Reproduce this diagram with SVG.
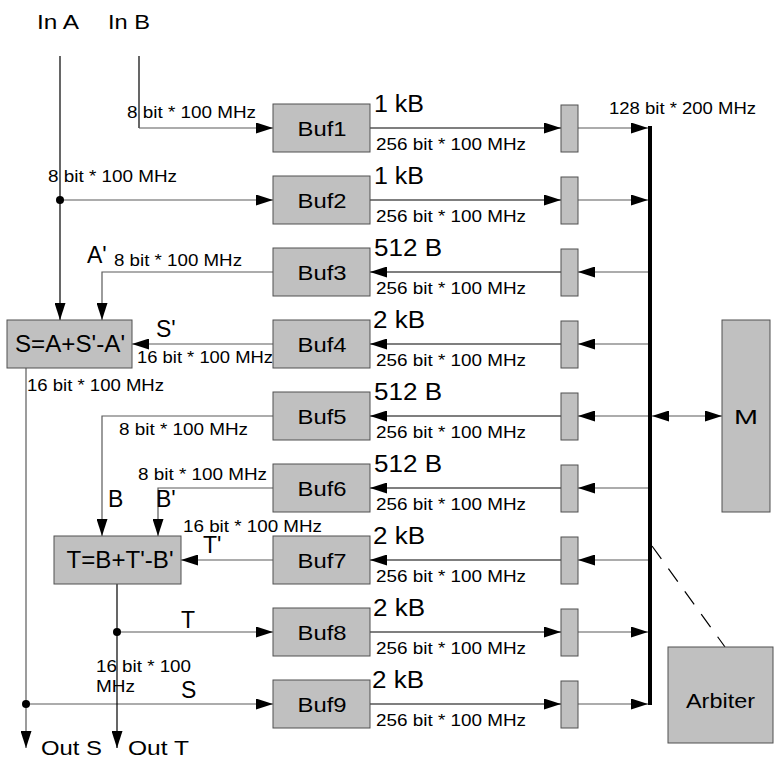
<svg xmlns="http://www.w3.org/2000/svg" width="779" height="758" viewBox="0 0 779 758">
<style>
.box{fill:#c0c0c0;stroke:#505050;stroke-width:1}
.t{font-family:"Liberation Sans",Arial,sans-serif;fill:#000}
.s{font-size:16px}
.l{font-size:23px}
.m{font-size:21px}
.c{text-anchor:middle}
.ln{fill:none;stroke:#000;stroke-width:1.2}
.g{stroke:#5a5a5a}
.a{marker-end:url(#ah)}
</style>
<defs>
<marker id="ah" viewBox="0 0 17 11" refX="17" refY="5.5" markerWidth="17" markerHeight="11" markerUnits="userSpaceOnUse" orient="auto-start-reverse">
<path d="M0,0 L17,5.5 L0,11 z" fill="#000"/>
</marker>
</defs>
<rect width="779" height="758" fill="#fff"/>

<g id="connectors">
<!-- inputs -->
<path class="ln a" d="M60,56 V320"/>
<path class="ln" d="M139,56 V128"/>
<path class="ln g a" d="M139,128 H273"/>
<path class="ln g a" d="M60,200 H273"/>
<!-- feedback to S -->
<path class="ln g a" d="M273,272 H102 V320"/>
<path class="ln g a" d="M273,344 H132"/>
<!-- S output -->
<path class="ln g a" d="M26,368 V748"/>
<path class="ln g a" d="M26,704 H273"/>
<!-- feedback to T -->
<path class="ln g a" d="M273,416 H102 V536"/>
<path class="ln g a" d="M273,488 H158 V536"/>
<path class="ln g a" d="M273,560 H181"/>
<!-- T output -->
<path class="ln a" d="M117,584 V748"/>
<path class="ln g a" d="M117,632 H273"/>
<!-- buffers to latches -->
<path class="ln a" d="M370,128 H561"/>
<path class="ln a" d="M370,200 H561"/>
<path class="ln a" d="M561,272 H370"/>
<path class="ln a" d="M561,344 H370"/>
<path class="ln a" d="M561,416 H370"/>
<path class="ln a" d="M561,488 H370"/>
<path class="ln a" d="M561,560 H370"/>
<path class="ln a" d="M370,632 H561"/>
<path class="ln a" d="M370,704 H561"/>
<!-- latches to bus -->
<path class="ln g a" d="M578,128 H648"/>
<path class="ln g a" d="M578,200 H648"/>
<path class="ln g a" d="M648,272 H578"/>
<path class="ln g a" d="M648,344 H578"/>
<path class="ln g a" d="M648,416 H578"/>
<path class="ln g a" d="M648,488 H578"/>
<path class="ln g a" d="M648,560 H578"/>
<path class="ln g a" d="M578,632 H648"/>
<path class="ln g a" d="M578,704 H648"/>
<!-- bus to M -->
<path class="ln g a" d="M652,416 H722" marker-start="url(#ah)"/>
<!-- arbiter -->
<path class="ln" d="M652,546 L725,647" stroke-dasharray="16 12" stroke-width="1"/>
<!-- junction dots -->
<circle cx="60" cy="200" r="4" fill="#000"/>
<circle cx="117" cy="632" r="4" fill="#000"/>
<circle cx="26" cy="704" r="4" fill="#000"/>
<!-- connector labels -->
<text class="t s" x="127" y="118" textLength="129" lengthAdjust="spacingAndGlyphs">8 bit * 100 MHz</text>
<text class="t s" x="48" y="182" textLength="129" lengthAdjust="spacingAndGlyphs">8 bit * 100 MHz</text>
<text class="t l" x="87" y="263">A'</text>
<text class="t s" x="114" y="266" textLength="128" lengthAdjust="spacingAndGlyphs">8 bit * 100 MHz</text>
<text class="t l" x="156" y="337">S'</text>
<text class="t s" x="137" y="363" textLength="136" lengthAdjust="spacingAndGlyphs">16 bit * 100 MHz</text>
<text class="t s" x="27" y="391" textLength="137" lengthAdjust="spacingAndGlyphs">16 bit * 100 MHz</text>
<text class="t s" x="119" y="435" textLength="129" lengthAdjust="spacingAndGlyphs">8 bit * 100 MHz</text>
<text class="t s" x="138" y="480" textLength="129" lengthAdjust="spacingAndGlyphs">8 bit * 100 MHz</text>
<text class="t l" x="108" y="507">B</text>
<text class="t l" x="156" y="507">B'</text>
<text class="t s" x="183" y="532" textLength="139" lengthAdjust="spacingAndGlyphs">16 bit * 100 MHz</text>
<text class="t l" x="203" y="553">T'</text>
<text class="t l" x="181" y="628">T</text>
<text class="t s" x="96" y="672" textLength="95" lengthAdjust="spacingAndGlyphs">16 bit * 100</text>
<text class="t s" x="96" y="692" textLength="39" lengthAdjust="spacingAndGlyphs">MHz</text>
<text class="t l" x="181" y="698">S</text>
<text class="t s" x="609" y="114" textLength="147" lengthAdjust="spacingAndGlyphs">128 bit * 200 MHz</text>
<text class="t s" x="376" y="150" textLength="150" lengthAdjust="spacingAndGlyphs">256 bit * 100 MHz</text>
<text class="t s" x="376" y="222" textLength="150" lengthAdjust="spacingAndGlyphs">256 bit * 100 MHz</text>
<text class="t s" x="376" y="294" textLength="150" lengthAdjust="spacingAndGlyphs">256 bit * 100 MHz</text>
<text class="t s" x="376" y="366" textLength="150" lengthAdjust="spacingAndGlyphs">256 bit * 100 MHz</text>
<text class="t s" x="376" y="438" textLength="150" lengthAdjust="spacingAndGlyphs">256 bit * 100 MHz</text>
<text class="t s" x="376" y="510" textLength="150" lengthAdjust="spacingAndGlyphs">256 bit * 100 MHz</text>
<text class="t s" x="376" y="582" textLength="150" lengthAdjust="spacingAndGlyphs">256 bit * 100 MHz</text>
<text class="t s" x="376" y="654" textLength="150" lengthAdjust="spacingAndGlyphs">256 bit * 100 MHz</text>
<text class="t s" x="376" y="726" textLength="150" lengthAdjust="spacingAndGlyphs">256 bit * 100 MHz</text>
<text class="t l" x="374" y="112" textLength="50" lengthAdjust="spacingAndGlyphs">1 kB</text>
<text class="t l" x="374" y="184" textLength="50" lengthAdjust="spacingAndGlyphs">1 kB</text>
<text class="t l" x="374" y="256" textLength="68" lengthAdjust="spacingAndGlyphs">512 B</text>
<text class="t l" x="373" y="328" textLength="52" lengthAdjust="spacingAndGlyphs">2 kB</text>
<text class="t l" x="374" y="400" textLength="68" lengthAdjust="spacingAndGlyphs">512 B</text>
<text class="t l" x="374" y="472" textLength="68" lengthAdjust="spacingAndGlyphs">512 B</text>
<text class="t l" x="373" y="544" textLength="52" lengthAdjust="spacingAndGlyphs">2 kB</text>
<text class="t l" x="373" y="616" textLength="52" lengthAdjust="spacingAndGlyphs">2 kB</text>
<text class="t l" x="372" y="688" textLength="52" lengthAdjust="spacingAndGlyphs">2 kB</text>
</g>

<g id="inA"><text class="t m" x="37" y="29" textLength="42" lengthAdjust="spacingAndGlyphs">In A</text></g>
<g id="inB"><text class="t m" x="108" y="29" textLength="42" lengthAdjust="spacingAndGlyphs">In B</text></g>
<g id="outS"><text class="t m" x="41" y="755" textLength="61" lengthAdjust="spacingAndGlyphs">Out S</text></g>
<g id="outT"><text class="t m" x="128" y="755" textLength="61" lengthAdjust="spacingAndGlyphs">Out T</text></g>

<g id="adderS"><rect class="box" x="7" y="320" width="125" height="48"/><text class="t l c" x="70" y="352" textLength="110" lengthAdjust="spacingAndGlyphs">S=A+S'-A'</text></g>
<g id="adderT"><rect class="box" x="54" y="536" width="127" height="48"/><text class="t l c" x="120" y="568" textLength="107" lengthAdjust="spacingAndGlyphs">T=B+T'-B'</text></g>

<g id="buf1"><rect class="box" x="273" y="104" width="97" height="48"/><text class="t m c" x="322" y="136" textLength="49" lengthAdjust="spacingAndGlyphs">Buf1</text></g>
<g id="buf2"><rect class="box" x="273" y="176" width="97" height="48"/><text class="t m c" x="322" y="208" textLength="49" lengthAdjust="spacingAndGlyphs">Buf2</text></g>
<g id="buf3"><rect class="box" x="273" y="248" width="97" height="48"/><text class="t m c" x="322" y="280" textLength="49" lengthAdjust="spacingAndGlyphs">Buf3</text></g>
<g id="buf4"><rect class="box" x="273" y="320" width="97" height="48"/><text class="t m c" x="322" y="352" textLength="49" lengthAdjust="spacingAndGlyphs">Buf4</text></g>
<g id="buf5"><rect class="box" x="273" y="392" width="97" height="48"/><text class="t m c" x="322" y="424" textLength="49" lengthAdjust="spacingAndGlyphs">Buf5</text></g>
<g id="buf6"><rect class="box" x="273" y="464" width="97" height="48"/><text class="t m c" x="322" y="496" textLength="49" lengthAdjust="spacingAndGlyphs">Buf6</text></g>
<g id="buf7"><rect class="box" x="273" y="536" width="97" height="48"/><text class="t m c" x="322" y="568" textLength="49" lengthAdjust="spacingAndGlyphs">Buf7</text></g>
<g id="buf8"><rect class="box" x="273" y="608" width="97" height="48"/><text class="t m c" x="322" y="640" textLength="49" lengthAdjust="spacingAndGlyphs">Buf8</text></g>
<g id="buf9"><rect class="box" x="273" y="680" width="97" height="48"/><text class="t m c" x="322" y="712" textLength="49" lengthAdjust="spacingAndGlyphs">Buf9</text></g>

<g id="latch1"><rect class="box" x="561" y="105" width="17" height="47"/></g>
<g id="latch2"><rect class="box" x="561" y="177" width="17" height="47"/></g>
<g id="latch3"><rect class="box" x="561" y="249" width="17" height="47"/></g>
<g id="latch4"><rect class="box" x="561" y="321" width="17" height="47"/></g>
<g id="latch5"><rect class="box" x="561" y="393" width="17" height="47"/></g>
<g id="latch6"><rect class="box" x="561" y="465" width="17" height="47"/></g>
<g id="latch7"><rect class="box" x="561" y="537" width="17" height="47"/></g>
<g id="latch8"><rect class="box" x="561" y="609" width="17" height="47"/></g>
<g id="latch9"><rect class="box" x="561" y="681" width="17" height="47"/></g>

<g id="bus"><rect x="648" y="126" width="4" height="579" fill="#000"/></g>
<g id="M"><rect class="box" x="722" y="320" width="48" height="192"/><text class="t m c" x="746" y="424" textLength="24" lengthAdjust="spacingAndGlyphs">M</text></g>
<g id="arbiter"><rect class="box" x="668" y="647" width="105" height="96"/><text class="t m c" x="720.5" y="708" textLength="69" lengthAdjust="spacingAndGlyphs">Arbiter</text></g>
</svg>
